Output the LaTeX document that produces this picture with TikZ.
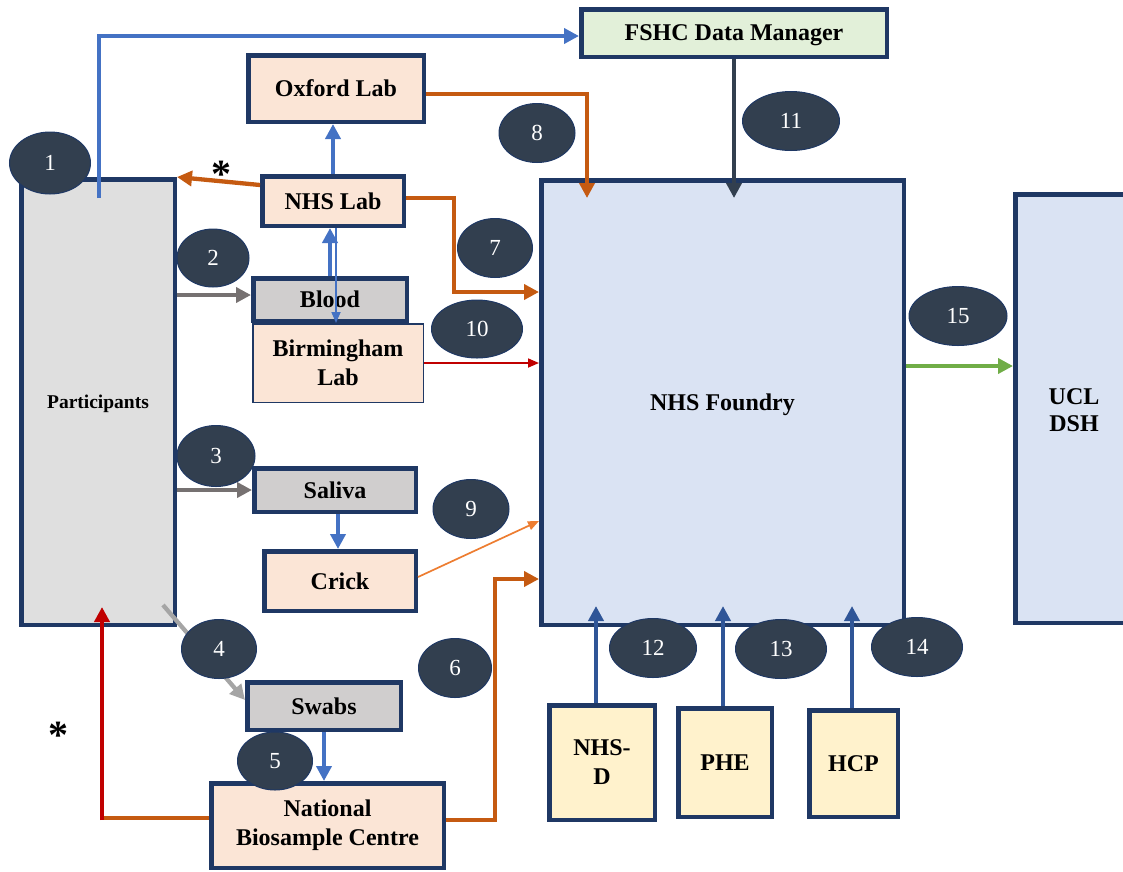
\documentclass[tikz,border=0pt]{standalone}
\usepackage{fontspec}
\setmainfont{Liberation Serif}
\usetikzlibrary{arrows.meta,shapes.geometric}
\definecolor{navy}{HTML}{1F3864}
\definecolor{slate}{HTML}{323F4F}
\definecolor{peach}{HTML}{FBE5D6}
\definecolor{boxgray}{HTML}{D0CECE}
\definecolor{partgray}{HTML}{DFDFDF}
\definecolor{lightblue}{HTML}{DAE3F3}
\definecolor{lightgreen}{HTML}{E2F0D9}
\definecolor{lightyellow}{HTML}{FFF2CC}
\definecolor{orangeA}{HTML}{C55A11}
\definecolor{orangeB}{HTML}{ED7D31}
\definecolor{blueA}{HTML}{4472C4}
\definecolor{blueB}{HTML}{2F5597}
\definecolor{grayA}{HTML}{767171}
\definecolor{grayB}{HTML}{A5A5A5}
\definecolor{redA}{HTML}{C00000}
\definecolor{greenA}{HTML}{70AD47}
\begin{document}
\begin{tikzpicture}[x=1pt,y=-1pt,
  box/.style={draw=navy, line width=4.5pt, inner sep=0pt, align=center,
    font=\bfseries\fontsize{24}{29}\selectfont},
  peachbox/.style={box, fill=peach},
  graybox/.style={box, fill=boxgray},
  bluebox/.style={box, fill=lightblue},
  greenbox/.style={box, fill=lightgreen},
  yellowbox/.style={box, fill=lightyellow},
  num/.style={ellipse, draw=navy, line width=1pt, fill=slate, text=white,
    inner sep=0pt, font=\fontsize{23}{23}\selectfont},
  arr/.style={line width=4.3pt, -{Triangle[length=15pt,width=15pt]}},
  thinarr/.style={line width=1.7pt, -{Triangle[length=11pt,width=9pt]}},
  starmark/.style={inner sep=0pt, font=\bfseries\fontsize{40}{40}\selectfont}
]
\useasboundingbox (0,0) rectangle (1123,871);
\clip (0,0) rectangle (1123,871);

% boxes
\node[box, fill=partgray, minimum width=153.5, minimum height=445.5, text depth=0pt,
  font=\bfseries\fontsize{19.5}{22}\selectfont] (part) at (98,402) {Participants};
\node[greenbox, minimum width=305.5, minimum height=47.5, text depth=0pt] (fshc) at (734,33) {FSHC Data Manager};
\node[peachbox, minimum width=175.5, minimum height=66.5] (ox) at (336,88.5) {Oxford Lab};
\node[peachbox, minimum width=141.5, minimum height=49.5] (nhs) at (333,201) {NHS Lab};
\node[peachbox, line width=1.5pt, minimum width=170.5, minimum height=78.5] (bham) at (338,363) {Birmingham\\Lab};
\node[graybox, minimum width=153.5, minimum height=42.5] (blood) at (330,299.5) {Blood};
\node[graybox, minimum width=161.5, minimum height=43.5] (saliva) at (335,490) {Saliva};
\node[peachbox, minimum width=151.5, minimum height=59.5] (crick) at (340,581) {Crick};
\node[graybox, minimum width=153.5, minimum height=47.5] (swabs) at (324,706) {Swabs};
\node[peachbox, minimum width=232.5, minimum height=84.5] (nbc) at (327.5,825.5) {National\\Biosample Centre};
\node[bluebox, minimum width=362.5, minimum height=444.5, text depth=0pt] (fd) at (722.5,402.5) {NHS Foundry};
\node[bluebox, minimum width=122.5, minimum height=428.5] (ucl) at (1076.5,408.5) {};
\node[inner sep=0pt, align=center, font=\bfseries\fontsize{24}{27}\selectfont] (ucltxt) at (1074,410) {UCL\\DSH};
\node[yellowbox, minimum width=105.5, minimum height=114.5] (nhsd) at (602,762.5) {NHS-\\D};
\node[yellowbox, minimum width=93.5, minimum height=108.5] (phe) at (725,762.5) {PHE};
\node[yellowbox, minimum width=88.5, minimum height=106.5] (hcp) at (853.5,763.5) {HCP};

% helper coordinates
\coordinate (c1) at (99,198);
\coordinate (b2) at ([yshift=4.5pt]blood.west);
\coordinate (c8) at (587,198);
\coordinate (c7) at (539,292);
\coordinate (c9a) at ([xshift=-2pt]crick.north);
\coordinate (c9) at (539,521);
\coordinate (c4) at (163,605);
\coordinate (cs) at (102,818);
\coordinate (cp) at (102,607);
\coordinate (c6) at (539,579);
\coordinate (fb) at (0,606);
\coordinate (a12) at ([xshift=-6pt]nhsd.north);
\coordinate (a13) at ([xshift=-2pt]phe.north);
\coordinate (a14) at ([xshift=-1.5pt]hcp.north);
\coordinate (g15) at ([yshift=36.5pt]fd.east);
\coordinate (bl) at ([xshift=3pt]nhs.south);

% connectors
\draw[arr, blueA] (c1) |- ([yshift=-3pt]fshc.west);
\draw[arr, orangeA] ([yshift=16pt]nhs.west) -- (part.north east);
\draw[arr, blueA] (nhs.north) -- (nhs.north |- ox.south);
\draw[arr, blueA] (blood.north) -- (blood.north |- nhs.south);
\draw[thinarr, blueA] (bl) -- (bl |- bham.north);
\draw[arr, grayA] (b2 -| part.east) -- (b2);
\draw[arr, orangeA] ([yshift=-5.5pt]ox.east) -| (c8);
\draw[arr, slate] (fshc.south) -- (fshc.south |- c8);
\draw[arr, orangeA] ([yshift=3pt]nhs.east) -- ++(48,0) |- (c7);
\draw[thinarr, redA] (bham.east) -- (bham.east -| c7);
\draw[arr, grayA] (saliva.west -| part.east) -- (saliva.west);
\draw[arr, blueA] (c9a |- saliva.south) -- (c9a);
\draw[thinarr, orangeB] ([yshift=4pt]crick.east) -- (c9);
\draw[arr, grayB] (c4) -- ([yshift=6pt]swabs.west);
\draw[arr, blueA] (swabs.south) -- (swabs.south |- nbc.north);
\draw[line width=4.3pt, orangeA] ([yshift=7.5pt]nbc.west) -- (cs);
\draw[arr, redA] ([yshift=-2pt]cs) -- (cp);
\draw[arr, orangeA] ([yshift=5.5pt]nbc.east) -- ++(49,0) |- (c6);
\draw[arr, blueB] (a12) -- (a12 |- fb);
\draw[arr, blueB] (a13) -- (a13 |- fb);
\draw[arr, blueB] (a14) -- (a14 |- fb);
\draw[arr, greenA] (g15) -- (g15 -| ucl.west);

% stars
\node[starmark] (star1) at (221,174) {*};
\node[starmark] (star2) at (58,735) {*};

% numbered ellipses
\node[num, minimum width=81, minimum height=62] (n1) at (50,163) {1};
\node[num, minimum width=72, minimum height=58] (n2) at (213,258) {2};
\node[num, minimum width=78, minimum height=61] (n3) at (216,456) {3};
\node[num, minimum width=75, minimum height=59] (n4) at (219,649) {4};
\node[num, minimum width=75, minimum height=58] (n5) at (275,761) {5};
\node[num, minimum width=73, minimum height=59] (n6) at (455,668) {6};
\node[num, minimum width=75, minimum height=59] (n7) at (495,248) {7};
\node[num, minimum width=76, minimum height=59] (n8) at (537,133) {8};
\node[num, minimum width=76, minimum height=59] (n9) at (471,509) {9};
\node[num, minimum width=91, minimum height=58] (n10) at (477,329) {10};
\node[num, minimum width=97, minimum height=59] (n11) at (791,121) {11};
\node[num, minimum width=87, minimum height=59] (n12) at (653,648) {12};
\node[num, minimum width=91, minimum height=59] (n13) at (781,649) {13};
\node[num, minimum width=91, minimum height=59] (n14) at (917,647) {14};
\node[num, minimum width=98, minimum height=59] (n15) at (958,316) {15};
\end{tikzpicture}
\end{document}
